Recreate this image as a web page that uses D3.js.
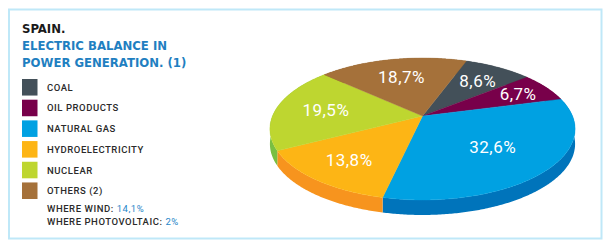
<!DOCTYPE html>
<html><head><meta charset="utf-8">
<script src="https://cdn.jsdelivr.net/npm/d3@7"></script>
<style>
html,body{margin:0;padding:0;background:#fff;}
svg{display:block;}
</style></head>
<body>
<svg id="chart" width="611" height="249"></svg>
<script>
// ---- data ----
const categories = ["COAL", "OIL PRODUCTS", "NATURAL GAS", "HYDROELECTRICITY", "NUCLEAR", "OTHERS (2)"];
const values = [8.6, 6.7, 32.6, 13.8, 19.5, 18.7];
const valueLabels = ["8,6%", "6,7%", "32,6%", "13,8%", "19,5%", "18,7%"];
const topColors = ["#435059", "#78004a", "#00a1e2", "#fdb515", "#bed630", "#a5713a"];
const sideColors = ["#2f3a41", "#55002f", "#0074bb", "#f7941e", "#79bf42", "#7f5528"];
const titleLines = ["SPAIN.", "ELECTRIC BALANCE IN", "POWER GENERATION. (1)"];
const noteLabels = ["WHERE WIND: ", "WHERE PHOTOVOLTAIC: "];
const noteValues = ["14,1%", "2%"];

const svg = d3.select("#chart");

// frame
svg.append("rect").attr("x", 9).attr("y", 9.5).attr("width", 592.5).attr("height", 229)
  .attr("fill", "none").attr("stroke", "#bfe8f8").attr("stroke-width", 2);

// title
const tfont = "'DejaVu Sans Condensed', 'DejaVu Sans', sans-serif";
svg.append("text").attr("x", 22).attr("y", 33).text(titleLines[0])
  .attr("font-family", tfont).attr("font-weight", "bold").attr("font-size", 13).attr("fill", "#1a1a1a");
[titleLines[1], titleLines[2]].forEach((t, i) => {
  svg.append("text").attr("x", 22).attr("y", 50 + i * 17).text(t)
    .attr("font-family", tfont).attr("font-weight", "bold").attr("font-size", 13).attr("fill", "#1f7fc1");
});

// legend
const lfont = "Roboto, 'Open Sans', sans-serif";
const legY = d3.scaleBand().domain(categories).range([79, 199]).paddingInner(0.2).paddingOuter(0);
const leg = svg.append("g");
leg.selectAll("rect").data(categories).join("rect")
  .attr("x", 22).attr("y", d => legY(d)).attr("width", 15.5).attr("height", legY.bandwidth())
  .attr("fill", (d, i) => topColors[i]);
leg.selectAll("text").data(categories).join("text")
  .attr("x", 47).attr("y", d => legY(d) + legY.bandwidth() / 2 + 3.5)
  .attr("font-family", lfont).attr("font-size", 9.5).attr("font-weight", 500)
  .attr("letter-spacing", 0.55).attr("fill", "#2a2a2a")
  .text(d => d);
noteLabels.forEach((t, i) => {
  const tx = svg.append("text").attr("x", 47).attr("y", 211.5 + i * 13.5)
    .attr("font-family", lfont).attr("font-size", 9.5).attr("font-weight", 500)
    .attr("letter-spacing", 0.55).attr("fill", "#2a2a2a");
  tx.append("tspan").text(t);
  tx.append("tspan").attr("fill", "#1f86c8").attr("font-weight", 400).text(noteValues[i]);
});

// ---- 3D perspective pie ----
const cx = 422.5, cy = 116, A = 150, B = 68.6, k = 0.183, depth = 15;
function proj(theta, r) {
  const u = r * Math.sin(theta), v = -r * Math.cos(theta);
  const w = 1 - k * v;
  return [cx + A * u / w, cy + B * v / w];
}
const startDeg = 20;
const pie = d3.pie().sort(null).value(d => d)
  .startAngle(startDeg * Math.PI / 180).endAngle((startDeg + 360) * Math.PI / 180);
const arcs = pie(values);

function rimPoints(a0, a1) {
  const n = Math.max(4, Math.ceil((a1 - a0) / 0.01));
  const pts = [];
  for (let i = 0; i <= n; i++) pts.push(proj(a0 + (a1 - a0) * i / n, 1));
  return pts;
}
const line = d3.line();

// sides (front only matters; tops drawn after cover the rest)
const sides = svg.append("g");
arcs.forEach((a, i) => {
  const pts = rimPoints(a.startAngle, a.endAngle);
  const lower = pts.map(p => [p[0], p[1] + depth]).reverse();
  sides.append("path").attr("d", line(pts.concat(lower)) + "Z").attr("fill", sideColors[i]);
});
// tops
const tops = svg.append("g");
arcs.forEach((a, i) => {
  const pts = [proj(0, 0)].concat(rimPoints(a.startAngle, a.endAngle));
  tops.append("path").attr("d", line(pts) + "Z").attr("fill", topColors[i])
    .attr("stroke", topColors[i]).attr("stroke-width", 0.4);
});
// labels
const labelR = [0.7, 0.76, 0.6, 0.72, 0.66, 0.66];
svg.append("g").selectAll("text").data(arcs).join("text")
  .attr("x", (a, i) => proj((a.startAngle + a.endAngle) / 2, labelR[i])[0])
  .attr("y", (a, i) => proj((a.startAngle + a.endAngle) / 2, labelR[i])[1] + 6)
  .attr("text-anchor", "middle")
  .attr("font-family", lfont).attr("font-size", 17).attr("letter-spacing", 0.5).attr("fill", "#fff")
  .text((a, i) => valueLabels[i]);
</script>
</body></html>
